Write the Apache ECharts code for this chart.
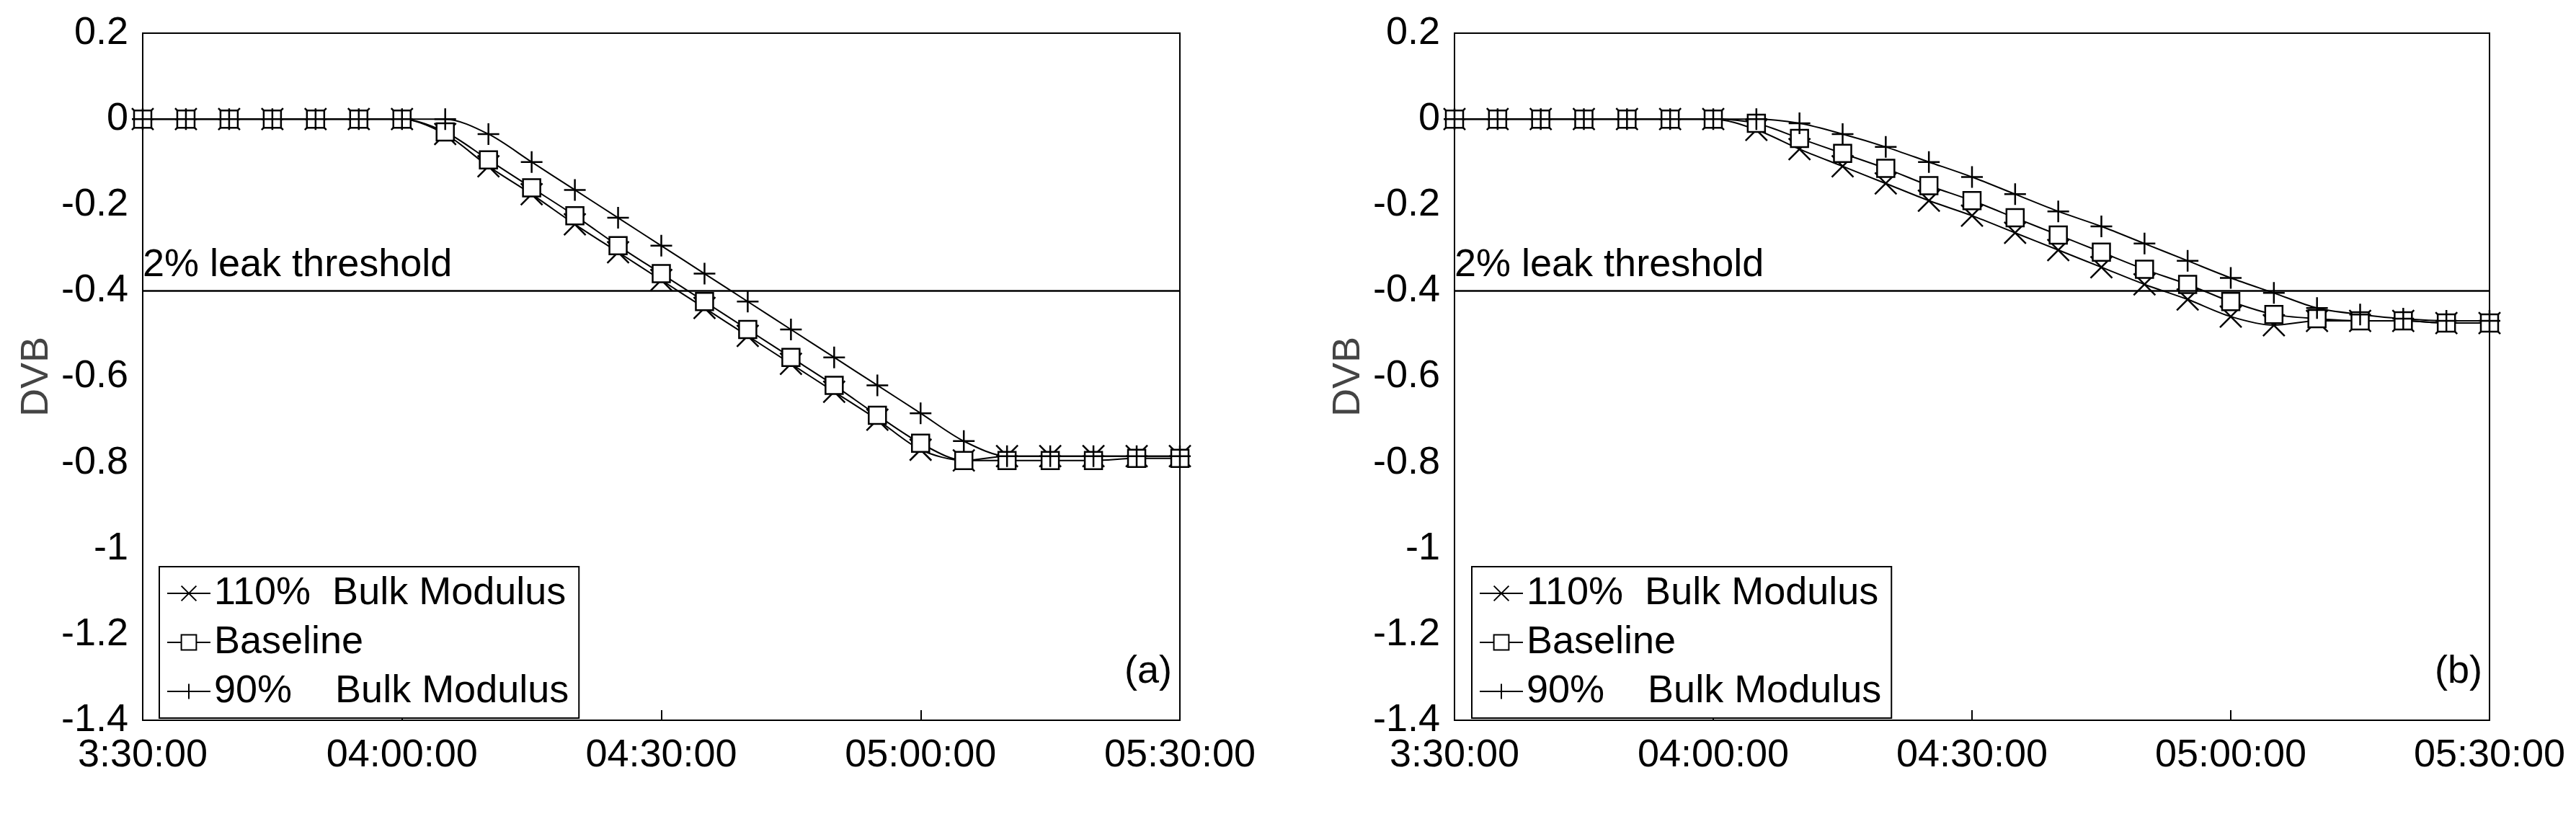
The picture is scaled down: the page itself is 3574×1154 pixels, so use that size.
<!DOCTYPE html>
<html>
<head>
<meta charset="utf-8">
<script src="https://cdn.jsdelivr.net/npm/echarts@6/dist/echarts.min.js"></script>
<style>html,body{margin:0;padding:0;background:#fff}#chart{width:3574px;height:1154px}</style>
</head>
<body>
<div id="chart"></div>
<script>
var times = ['3:30:00','','','','','','04:00:00','','','','','','04:30:00','','','','','','05:00:00','','','','','','05:30:00'];
// panel (a)
var a110 = [0,0,0,0,0,0,0,-0.035,-0.11,-0.175,-0.245,-0.31,-0.375,-0.44,-0.505,-0.57,-0.635,-0.70,-0.77,-0.795,-0.785,-0.785,-0.785,-0.785,-0.785];
var aBase = [0,0,0,0,0,0,0,-0.03,-0.095,-0.16,-0.225,-0.295,-0.36,-0.425,-0.49,-0.555,-0.62,-0.69,-0.755,-0.795,-0.795,-0.795,-0.795,-0.79,-0.79];
var a90 = [0,0,0,0,0,0,0,0,-0.035,-0.10,-0.165,-0.23,-0.295,-0.36,-0.425,-0.49,-0.555,-0.62,-0.685,-0.75,-0.785,-0.785,-0.785,-0.785,-0.785];
// panel (b)
var b110 = [0,0,0,0,0,0,0,-0.025,-0.07,-0.11,-0.15,-0.19,-0.225,-0.265,-0.305,-0.345,-0.385,-0.42,-0.46,-0.48,-0.47,-0.47,-0.47,-0.475,-0.475];
var bBase = [0,0,0,0,0,0,0,-0.01,-0.045,-0.08,-0.115,-0.155,-0.19,-0.23,-0.27,-0.31,-0.35,-0.385,-0.425,-0.455,-0.465,-0.47,-0.47,-0.475,-0.475];
var b90 = [0,0,0,0,0,0,0,0,-0.01,-0.035,-0.065,-0.10,-0.135,-0.175,-0.215,-0.25,-0.29,-0.33,-0.37,-0.405,-0.44,-0.455,-0.465,-0.47,-0.47];
var threshold = -0.4;
var names = ['110%  Bulk Modulus', 'Baseline', '90%    Bulk Modulus'];

var crossPath = 'path://M0,0L10,10M10,0L0,10';
var plusPath = 'path://M5,0L5,10M0,5L10,5';
var font = '"Liberation Sans Narrow", Arial, "Liberation Sans", sans-serif';

var chart = echarts.init(document.getElementById('chart'));
var grids = [{left:198, top:46, width:1439, height:953, show:true, borderColor:'#000', borderWidth:2},
             {left:2018, top:46, width:1436, height:953, show:true, borderColor:'#000', borderWidth:2}];

function xAxis(i){
  return {type:'category', gridIndex:i, data:times, boundaryGap:false,
    axisLine:{onZero:false, lineStyle:{color:'#000', width:2}},
    axisTick:{inside:true, length:14, interval:5, lineStyle:{color:'#000', width:2}},
    axisLabel:{interval:0, color:'#000', fontSize:54, fontFamily:font, margin:22}};
}
function yAxis(i, right){
  return {type:'value', gridIndex:i, min:-1.4, max:0.2, interval:0.2, position: right?'right':'left',
    name: right?'':'DVB', nameLocation:'middle', nameGap:120, nameTextStyle:{fontSize:54, color:'#444', fontFamily:'Arial, "Liberation Sans", sans-serif'},
    splitLine:{show:false},
    axisLine:{show:true, onZero:false, lineStyle:{color:'#000', width:2}},
    axisTick:{inside:true, length:14, lineStyle:{color:'#000', width:2}},
    axisLabel:{show:!right, color:'#000', fontSize:54, fontFamily:font, margin:20,
      formatter:function(v){return String(parseFloat(v.toFixed(1)));}}};
}
function mk(name, data, sym, idx, withLine){
  var s = {name:name, type:'line', data:data, xAxisIndex:idx, yAxisIndex:idx*2,
    symbol:sym, symbolSize: sym==='rect'?24:30, showSymbol:true, smooth:0.3, color:'#000',
    lineStyle:{color:'#000', width:2, type:'solid'},
    itemStyle:{color: sym==='rect'?'#fff':'#000', borderColor:'#000', borderWidth:2.5},
    animation:false};
  if (withLine) {
    s.markLine = {symbol:'none', silent:true, data:[{yAxis:threshold}],
      lineStyle:{color:'#000', width:2.5, type:'solid'},
      label:{show:true, position:'insideStartTop', formatter:'2% leak threshold', color:'#000', fontSize:54, fontFamily:font, distance:[0,8]}};
  }
  return s;
}
var series = [
  mk(names[0], a110, crossPath, 0, true), mk(names[1], aBase, 'rect', 0), mk(names[2], a90, plusPath, 0),
  mk(names[0], b110, crossPath, 1, true), mk(names[1], bBase, 'rect', 1), mk(names[2], b90, plusPath, 1)
];
function legend(x){
  return {left:x, top:786, orient:'vertical', data:names, itemGap:14, itemWidth:60, itemHeight:26,
    borderColor:'#000', borderWidth:2, padding:[10,14,10,10], backgroundColor:'#fff',
    textStyle:{fontSize:54, fontFamily:font, color:'#000'}, selectedMode:false};
}
chart.setOption({
  animation:false,
  grid:grids,
  xAxis:[xAxis(0), xAxis(1)],
  yAxis:[yAxis(0,false), yAxis(0,true), yAxis(1,false), yAxis(1,true)],
  legend:[legend(221), legend(2042)],
  graphic:[
    {type:'text', left:1560, top:905, style:{text:'(a)', fontSize:54, fontFamily:font, fill:'#000'}},
    {type:'text', left:3378, top:905, style:{text:'(b)', fontSize:54, fontFamily:font, fill:'#000'}}
  ],
  series:series
});
</script>
</body>
</html>
